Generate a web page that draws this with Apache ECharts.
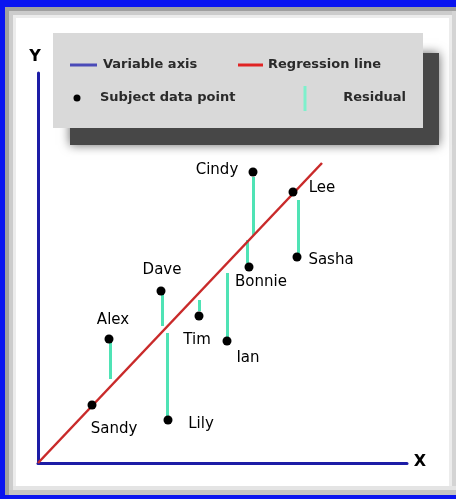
<!DOCTYPE html>
<html>
<head>
<meta charset="utf-8">
<script src="https://cdn.jsdelivr.net/npm/echarts@6/dist/echarts.min.js"></script>
<style>
  html, body { margin: 0; padding: 0; background: #fff; overflow: hidden; }
  #main { width: 456px; height: 499px; }
</style>
</head>
<body>
<div id="main"></div>
<script>
// subjects (x = along X axis, y = along Y axis)
var names   = ['Sandy', 'Alex', 'Dave', 'Lily', 'Tim', 'Ian', 'Bonnie', 'Cindy', 'Lee', 'Sasha'];
var xValues = [54, 71, 123, 130, 161, 189, 211, 215, 255, 259];
var yValues = [58, 124, 172, 43, 147, 122, 196, 291, 271, 206];

// regression line end points
var lineX = [0, 284];
var lineY = [0, 300];

// residual segments (x, from, to)
var resX    = [72, 124, 129, 161, 189, 209, 215, 260];
var resFrom = [124, 172, 130, 163, 190, 223, 286, 263];
var resTo   = [84, 137, 46, 152, 122, 200, 228, 208];

// label offset from point centre
var labelOffset = {
    Sandy: [22, 24], Alex: [4, -19], Dave: [1, -21], Lily: [33, 4], Tim: [-2, 24],
    Ian: [21, 17], Bonnie: [12, 15], Cindy: [-36, -2], Lee: [29, -4], Sasha: [34, 3]
};

var myChart = echarts.init(document.getElementById('main'));

var points = names.map(function (n, i) {
    return {
        name: n,
        value: [xValues[i], yValues[i]],
        label: { offset: labelOffset[n] }
    };
});
var residuals = resX.map(function (x, i) {
    return { coords: [[x, resFrom[i]], [x, resTo[i]]] };
});

var font = 'DejaVu Sans';
var option = {
    animation: false,
    grid: { left: 38, top: 73, width: 369, height: 390 },
    xAxis: {
        type: 'value', min: 0, max: 369,
        axisLine: { lineStyle: { color: '#1c1ca6', width: 3 } },
        axisTick: { show: false }, axisLabel: { show: false }, splitLine: { show: false }
    },
    yAxis: {
        type: 'value', min: 0, max: 390,
        axisLine: { lineStyle: { color: '#1c1ca6', width: 3 } },
        axisTick: { show: false }, axisLabel: { show: false }, splitLine: { show: false }
    },
    graphic: [
        // frame: white page, grey bevel bands, blue strips on top, left, bottom
        { type: 'rect', shape: { x: 0, y: 0, width: 456, height: 499 }, style: { fill: '#ffffff' }, z: -10 },
        { type: 'rect', shape: { x: 5, y: 7, width: 4, height: 488 }, style: { fill: '#a0a0a0' }, z: -9 },
        { type: 'rect', shape: { x: 9, y: 7, width: 4, height: 488 }, style: { fill: '#cccccc' }, z: -9 },
        { type: 'rect', shape: { x: 13, y: 7, width: 3, height: 488 }, style: { fill: '#ececec' }, z: -9 },
        { type: 'rect', shape: { x: 5, y: 7, width: 451, height: 4 }, style: { fill: '#a0a0a0' }, z: -8 },
        { type: 'rect', shape: { x: 9, y: 11, width: 447, height: 4 }, style: { fill: '#cccccc' }, z: -8 },
        { type: 'rect', shape: { x: 13, y: 15, width: 443, height: 3 }, style: { fill: '#ececec' }, z: -8 },
        { type: 'rect', shape: { x: 449, y: 15, width: 3, height: 480 }, style: { fill: '#ececec' }, z: -8 },
        { type: 'rect', shape: { x: 452, y: 11, width: 4, height: 484 }, style: { fill: '#d4d4d4' }, z: -8 },
        { type: 'rect', shape: { x: 13, y: 486, width: 443, height: 4 }, style: { fill: '#e4e4e4' }, z: -8 },
        { type: 'rect', shape: { x: 9, y: 490, width: 447, height: 5 }, style: { fill: '#c4c4c4' }, z: -8 },
        { type: 'rect', shape: { x: 0, y: 0, width: 456, height: 7 }, style: { fill: '#0a14f0' }, z: -6 },
        { type: 'rect', shape: { x: 0, y: 0, width: 5, height: 499 }, style: { fill: '#0a14f0' }, z: -6 },
        { type: 'rect', shape: { x: 0, y: 495, width: 456, height: 4 }, style: { fill: '#0a14f0' }, z: -6 },
        // legend box with shadow
        { type: 'rect', shape: { x: 70, y: 53, width: 369, height: 92 },
          style: { fill: '#474747', shadowBlur: 10, shadowColor: 'rgba(0,0,0,0.6)' }, z: -5 },
        { type: 'rect', shape: { x: 53, y: 33, width: 370, height: 95 }, style: { fill: '#d9d9d9' }, z: -4 },
        { type: 'line', shape: { x1: 70, y1: 65, x2: 97, y2: 65 }, style: { stroke: '#4a4ab8', lineWidth: 3 }, z: -3 },
        { type: 'text', x: 103, y: 65, style: { text: 'Variable axis', font: 'bold 13px ' + font, fill: '#2a2a2a', textVerticalAlign: 'middle' }, z: -3 },
        { type: 'line', shape: { x1: 238, y1: 65, x2: 263, y2: 65 }, style: { stroke: '#e02424', lineWidth: 3 }, z: -3 },
        { type: 'text', x: 268, y: 65, style: { text: 'Regression line', font: 'bold 13px ' + font, fill: '#2a2a2a', textVerticalAlign: 'middle' }, z: -3 },
        { type: 'circle', shape: { cx: 77, cy: 98, r: 3.5 }, style: { fill: '#000' }, z: -3 },
        { type: 'text', x: 100, y: 98, style: { text: 'Subject data point', font: 'bold 13px ' + font, fill: '#2a2a2a', textVerticalAlign: 'middle' }, z: -3 },
        { type: 'line', shape: { x1: 305, y1: 86, x2: 305, y2: 111 }, style: { stroke: '#7ef0cc', lineWidth: 3 }, z: -3 },
        { type: 'text', x: 406, y: 98, style: { text: 'Residual', font: 'bold 13px ' + font, fill: '#2a2a2a', textAlign: 'right', textVerticalAlign: 'middle' }, z: -3 },
        // axis names
        { type: 'text', x: 35, y: 57, style: { text: 'Y', font: 'bold 16px ' + font, fill: '#000', textAlign: 'center', textVerticalAlign: 'middle' } },
        { type: 'text', x: 420, y: 462, style: { text: 'X', font: 'bold 16px ' + font, fill: '#000', textAlign: 'center', textVerticalAlign: 'middle' } }
    ],
    series: [
        {
            name: 'Residual',
            type: 'lines',
            coordinateSystem: 'cartesian2d',
            lineStyle: { color: '#4fe3b5', width: 3, opacity: 1 },
            z: 2,
            data: residuals
        },
        {
            name: 'Regression line',
            type: 'line',
            symbol: 'none',
            lineStyle: { color: '#c92a2a', width: 2.5 },
            z: 3,
            data: lineX.map(function (x, i) { return [x, lineY[i]]; })
        },
        {
            name: 'Subject data point',
            type: 'scatter',
            symbolSize: 9,
            itemStyle: { color: '#000', opacity: 1 },
            z: 4,
            label: {
                show: true,
                position: 'inside',
                formatter: '{b}',
                color: '#000',
                fontFamily: font,
                fontSize: 15
            },
            data: points
        }
    ]
};
myChart.setOption(option);
</script>
</body>
</html>
